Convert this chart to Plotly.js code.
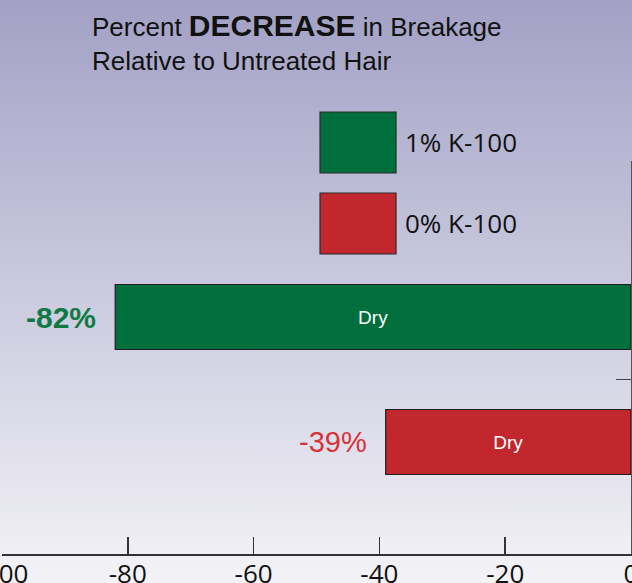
<!DOCTYPE html>
<html>
<head>
<meta charset="utf-8">
<script src="https://cdn.plot.ly/plotly-3.0.1.min.js"></script>
<style>
  html, body { margin:0; padding:0; width:632px; height:583px; overflow:hidden;
    background: linear-gradient(to bottom, #a2a1c5 0%, #cbcadf 50%, #f3f3f7 100%); }
  #chart { position:absolute; left:-40px; top:0; width:711px; height:620px; }
</style>
</head>
<body>
<div id="chart"></div>
<script>
// ---- data ----
const categories = ['0% K-100', '1% K-100'];
const values = [-39, -82];
const barText = ['Dry', 'Dry'];
const valueLabels = ['-39%', '-82%'];
const xTickVals = [-100, -80, -60, -40, -20, 0];
const xTickText = ['-100', '-80', '-60', '-40', '-20', '0'];
const titleLines = ['Percent <b><span style="font-size:30px">DECREASE</span></b> in Breakage', 'Relative to Untreated Hair'];

// ---- styles ----
const barColors = ['#c1272d', '#006f3c'];
const labelColors = ['#d6333a', '#0f7a43'];
const labelBold = [false, true];
const labelSizes = [29, 30];
const arial = '"Liberation Sans", Arial, sans-serif';

const yIdx = categories.map((c, i) => i);

const trace = {
  type: 'bar',
  orientation: 'h',
  x: values,
  y: yIdx,
  text: barText,
  textposition: 'inside',
  insidetextanchor: 'middle',
  textangle: 0,
  textfont: { family: arial, size: 19, color: '#ffffff' },
  marker: { color: barColors, line: { color: '#1e1e1e', width: 1.2 } },
  width: 0.52,
  hoverinfo: 'skip',
  showlegend: false
};

const annotations = values.map((v, i) => ({
  x: v, y: yIdx[i], xref: 'x', yref: 'y',
  text: labelBold[i] ? '<b>' + valueLabels[i] + '</b>' : valueLabels[i],
  showarrow: false, xanchor: 'right', yanchor: 'middle', xshift: -17,
  font: { family: arial, size: labelSizes[i], color: labelColors[i] }
}));

// legend (drawn as boxes + labels)
const legendOrder = [1, 0];
const legendBoxY = [[1.1247, 0.9695], [0.9186, 0.7634]];
const shapes = [];
legendOrder.forEach((ci, k) => {
  shapes.push({
    type: 'rect', xref: 'paper', yref: 'paper',
    x0: 0.5056, x1: 0.6264, y0: legendBoxY[k][1], y1: legendBoxY[k][0],
    fillcolor: barColors[ci], line: { color: '#2a2a2a', width: 1.2 }
  });
  annotations.push({
    xref: 'paper', yref: 'paper', x: 0.6375, y: (legendBoxY[k][0] + legendBoxY[k][1]) / 2,
    xanchor: 'left', yanchor: 'middle', showarrow: false,
    text: categories[ci],
    font: { family: '"Open Sans", sans-serif', size: 26, color: '#111111' }
  });
});

const layout = {
  width: 711, height: 620,
  margin: { l: 42, r: 40, t: 161, b: 66, pad: 0 },
  paper_bgcolor: 'rgba(0,0,0,0)',
  plot_bgcolor: 'rgba(0,0,0,0)',
  title: {
    text: titleLines.join('<br>'),
    xref: 'container', yref: 'container',
    x: 132 / 711, xanchor: 'left',
    y: 1 - 36 / 620, yanchor: 'top',
    font: { family: arial, size: 26, color: '#111111' }
  },
  xaxis: {
    range: [-100, 0],
    tickmode: 'array', tickvals: xTickVals, ticktext: xTickText,
    ticks: 'inside', ticklen: 17, tickwidth: 1.5, tickcolor: '#333333',
    ticklabelstandoff: -4,
    showline: true, linecolor: '#333333', linewidth: 1.5,
    showgrid: false, zeroline: false,
    tickfont: { family: '"Open Sans", sans-serif', size: 26, color: '#111111' },
    fixedrange: true
  },
  yaxis: {
    range: [-0.896, 2.248],
    side: 'right',
    tickmode: 'array', tickvals: [0.5],
    ticks: 'inside', ticklen: 15, tickwidth: 1.5, tickcolor: '#444444',
    showticklabels: false,
    showline: true, linecolor: '#555555', linewidth: 2,
    showgrid: false, zeroline: false,
    fixedrange: true
  },
  shapes: shapes,
  annotations: annotations,
  bargap: 0
};

Plotly.newPlot('chart', [trace], layout, { displayModeBar: false, staticPlot: true });
</script>
</body>
</html>
